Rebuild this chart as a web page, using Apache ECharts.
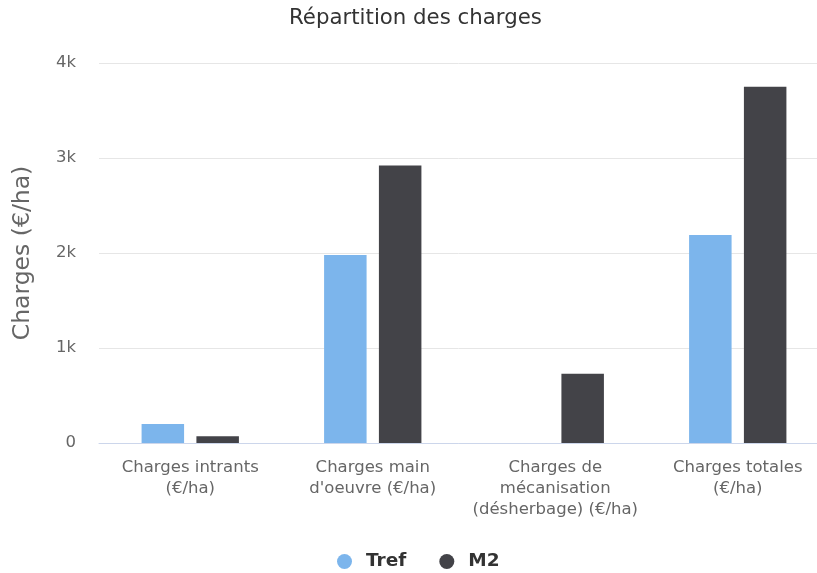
<!DOCTYPE html>
<html><head><meta charset="utf-8">
<script src="https://cdn.jsdelivr.net/npm/echarts@6/dist/echarts.min.js"></script>
<style>html,body{margin:0;padding:0;background:#fff;overflow:hidden}#c{width:817px;height:573px}</style>
</head><body><div id="c"></div>
<script>
const categories = ["Charges intrants\n(€/ha)", "Charges main\nd'oeuvre (€/ha)", "Charges de\nmécanisation\n(désherbage) (€/ha)", "Charges totales\n(€/ha)"];
const trefValues = [200, 1980, 0, 2190];
const m2Values = [70, 2920, 730, 3750];
const yTicks = [0, 1000, 2000, 3000, 4000];
const font = "DejaVu Sans";
const chart = echarts.init(document.getElementById('c'));
chart.setOption({
  animation: false,
  textStyle: {fontFamily: font},
  title: {text: 'Répartition des charges', left: 289, top: 8, padding: 0,
    textStyle: {fontFamily: font, fontSize: 21.3, fontWeight: 'normal', color: '#333'}},
  legend: {bottom: 2, left: 337, padding: 0, icon: 'circle', itemWidth: 15, itemHeight: 15, itemGap: 33,
    textStyle: {fontFamily: font, fontSize: 18.5, fontWeight: 'bold', color: '#333', padding: [0, 0, 0, 9]},
    data: ['Tref', 'M2']},
  grid: {left: 99, width: 730, top: 63, bottom: 130, outerBoundsMode: 'none', containLabel: false},
  xAxis: {type: 'category', data: categories,
    axisLine: {lineStyle: {color: '#ccd6eb'}}, axisTick: {show: false},
    axisLabel: {color: '#666', fontSize: 16.5, lineHeight: 21, margin: 14, interval: 0, fontFamily: font}},
  yAxis: {type: 'value', min: yTicks[0], max: yTicks[yTicks.length-1], interval: 1000,
    name: 'Charges (€/ha)', nameLocation: 'middle', nameGap: 64, nameRotate: 90,
    nameTextStyle: {fontSize: 23.5, color: '#666', fontFamily: font},
    axisLabel: {color: '#666', fontSize: 16.5, margin: 23, fontFamily: font,
      formatter: v => v === 0 ? '0' : (v/1000) + 'k'},
    splitLine: {lineStyle: {color: '#e6e6e6'}}},
  series: [
    {name: 'Tref', type: 'bar', data: trefValues, barWidth: 42.5, barGap: '29%',
      itemStyle: {color: '#7cb5ec', borderWidth: 0}},
    {name: 'M2', type: 'bar', data: m2Values, barWidth: 42.5,
      itemStyle: {color: '#434348', borderWidth: 0}}
  ]
});
</script></body></html>
